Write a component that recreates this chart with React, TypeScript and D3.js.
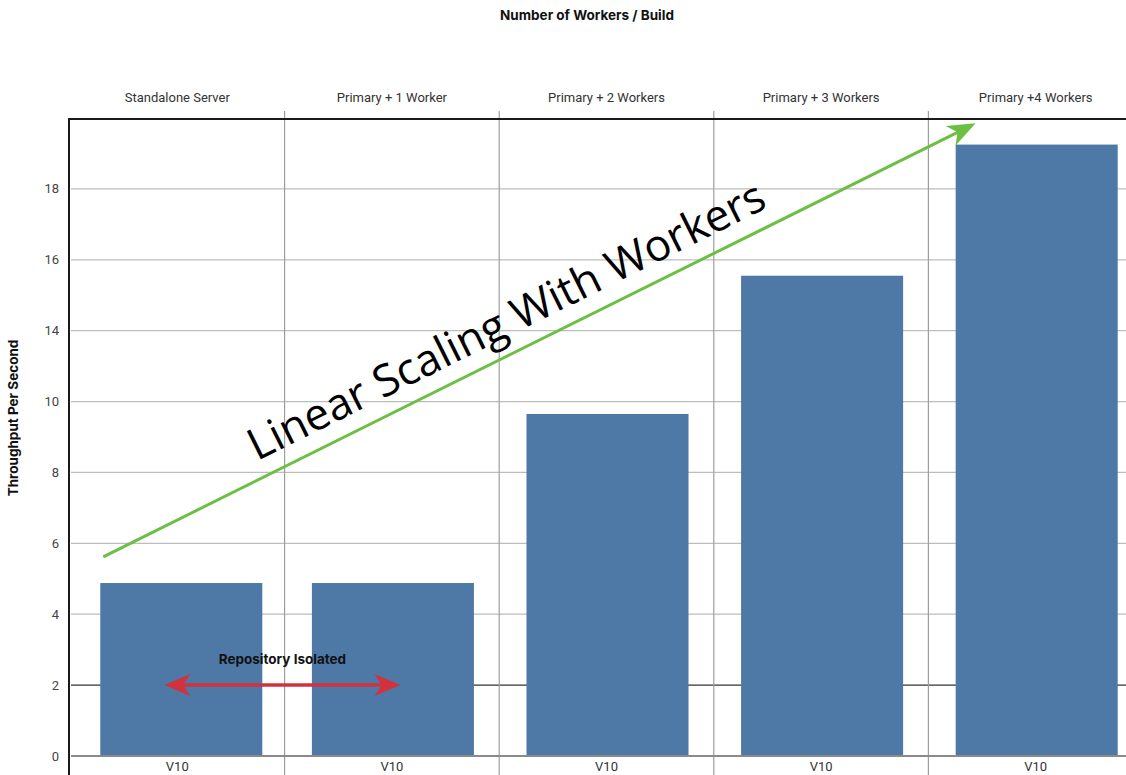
import React, { useEffect, useRef } from 'react';
import * as d3 from 'd3';

const builds = ['Standalone Server', 'Primary + 1 Worker', 'Primary + 2 Workers', 'Primary + 3 Workers', 'Primary +4 Workers'];
const versions = ['V10', 'V10', 'V10', 'V10', 'V10'];
const throughput = [4.88, 4.88, 9.65, 15.55, 19.25];
// the axis labels of the original skip 12, so the scale is piecewise
const tickValues = [0, 2, 4, 6, 8, 10, 14, 16, 18];
const tickLabels = ['0', '2', '4', '6', '8', '10', '14', '16', '18'];

const width = 1126;
const height = 775;
const margin = { top: 118, left: 70, bottom: 756 };
const step = 214.6;

// dart shaped arrow head, tip at (0,0), pointing along +x
const dart = (len: number, half: number) =>
  `M0,0 L${-len},${-half} L${-len * 0.72},0 L${-len},${half} Z`;

const App: React.FC = () => {
  const ref = useRef<SVGSVGElement | null>(null);

  useEffect(() => {
    if (!ref.current) return;
    const svg = d3.select(ref.current);
    svg.selectAll('*').remove();

    const x = d3.scaleBand<string>()
      .domain(builds)
      .range([margin.left, margin.left + step * builds.length])
      .padding(0);
    const bw = x.bandwidth();

    const inner = d3.scaleLinear().domain([0, 18]).range([margin.bottom, margin.top]);
    const y = d3.scaleLinear()
      .domain([0, 10, 14, 20])
      .range([0, 10, 12, 18].map(v => inner(v)));

    const font = 'Roboto, "Liberation Sans", sans-serif';
    const boldFont = 'Inter, Roboto, sans-serif';

    // horizontal grid
    svg.append('g')
      .selectAll('line')
      .data(tickValues)
      .join('line')
      .attr('x1', margin.left + 1)
      .attr('x2', width)
      .attr('y1', d => y(d))
      .attr('y2', d => y(d))
      .attr('stroke', d => (d === 2 ? '#333' : d === 0 ? '#8a8a8a' : '#bdbdbd'))
      .attr('stroke-width', d => (d === 0 ? 2 : d === 2 ? 1.4 : 1.3));

    // panel dividers
    svg.append('g')
      .selectAll('line')
      .data(builds.slice(1))
      .join('line')
      .attr('x1', d => x(d)!)
      .attr('x2', d => x(d)!)
      .attr('y1', margin.top - 7)
      .attr('y2', height)
      .attr('stroke', '#9e9e9e')
      .attr('stroke-width', 1.2);

    // bars
    const barW = bw * 0.755;
    svg.append('g')
      .selectAll('rect')
      .data(throughput)
      .join('rect')
      .attr('x', (d, i) => x(builds[i])! + (bw - barW) / 2 + (i === 0 ? 4 : 1))
      .attr('y', d => y(d))
      .attr('width', barW)
      .attr('height', d => y(0) - y(d))
      .attr('fill', '#4e78a6');

    // redraw baseline over bars
    svg.append('line')
      .attr('x1', margin.left + 1).attr('x2', width)
      .attr('y1', y(0)).attr('y2', y(0))
      .attr('stroke', '#8a8a8a').attr('stroke-width', 2);

    // frame
    svg.append('line')
      .attr('x1', margin.left).attr('x2', width)
      .attr('y1', margin.top + 1).attr('y2', margin.top + 1)
      .attr('stroke', '#1a1a1a').attr('stroke-width', 2);
    svg.append('line')
      .attr('x1', margin.left - 1).attr('x2', margin.left - 1)
      .attr('y1', margin.top).attr('y2', height)
      .attr('stroke', '#1a1a1a').attr('stroke-width', 2);

    // y tick labels
    svg.append('g')
      .selectAll('text')
      .data(tickValues)
      .join('text')
      .attr('x', 59)
      .attr('y', d => y(d) + 4.5)
      .attr('text-anchor', 'end')
      .attr('font-family', font)
      .attr('font-size', 13)
      .attr('fill', '#444')
      .text((d, i) => tickLabels[i]);

    // header labels
    svg.append('g')
      .selectAll('text')
      .data(builds)
      .join('text')
      .attr('x', d => x(d)! + bw / 2)
      .attr('y', 102)
      .attr('text-anchor', 'middle')
      .attr('font-family', font)
      .attr('font-size', 13)
      .attr('fill', '#333')
      .text(d => d);

    // bottom labels
    svg.append('g')
      .selectAll('text')
      .data(versions)
      .join('text')
      .attr('x', (d, i) => x(builds[i])! + bw / 2)
      .attr('y', 771)
      .attr('text-anchor', 'middle')
      .attr('font-family', font)
      .attr('font-size', 13)
      .attr('fill', '#333')
      .text(d => d);

    // title and axis title
    svg.append('text')
      .attr('x', 587).attr('y', 20)
      .attr('text-anchor', 'middle')
      .attr('font-family', boldFont)
      .attr('font-weight', 'bold')
      .attr('font-size', 13.5)
      .attr('fill', '#111')
      .text('Number of Workers / Build');

    svg.append('text')
      .attr('transform', 'translate(18,418) rotate(-90)')
      .attr('text-anchor', 'middle')
      .attr('font-family', boldFont)
      .attr('font-weight', 'bold')
      .attr('font-size', 13.5)
      .attr('fill', '#111')
      .text('Throughput Per Second');

    // green trend arrow
    const g0 = [x(builds[0])! + bw * 0.155, y(5.62)];
    const g1 = [x(builds[4])! + bw * 0.22, y(19.85)];
    const gAng = Math.atan2(g1[1] - g0[1], g1[0] - g0[0]);
    const green = '#6cbf43';
    svg.append('line')
      .attr('x1', g0[0]).attr('y1', g0[1])
      .attr('x2', g1[0] - Math.cos(gAng) * 14).attr('y2', g1[1] - Math.sin(gAng) * 14)
      .attr('stroke', green).attr('stroke-width', 3);
    svg.append('path')
      .attr('d', dart(28, 11))
      .attr('transform', `translate(${g1[0]},${g1[1]}) rotate(${(gAng * 180) / Math.PI})`)
      .attr('fill', green);

    svg.append('text')
      .attr('transform', `translate(513,334) rotate(${(gAng * 180) / Math.PI})`)
      .attr('text-anchor', 'middle')
      .attr('font-family', '"Open Sans", "Noto Sans", sans-serif')
      .attr('font-size', 44)
      .attr('fill', '#000')
      .text('Linear Scaling With Workers');

    // red double arrow
    const red = '#d2323d';
    const rx0 = x(builds[0])! + bw * 0.44;
    const rx1 = x(builds[1])! + bw * 0.54;
    const ry = y(2);
    svg.append('line')
      .attr('x1', rx0 + 14).attr('x2', rx1 - 14)
      .attr('y1', ry).attr('y2', ry)
      .attr('stroke', red).attr('stroke-width', 3.5);
    svg.append('path')
      .attr('d', dart(26, 11))
      .attr('transform', `translate(${rx1},${ry})`)
      .attr('fill', red);
    svg.append('path')
      .attr('d', dart(26, 11))
      .attr('transform', `translate(${rx0},${ry}) rotate(180)`)
      .attr('fill', red);

    svg.append('text')
      .attr('x', (rx0 + rx1) / 2)
      .attr('y', ry - 21)
      .attr('text-anchor', 'middle')
      .attr('font-family', boldFont)
      .attr('font-weight', 'bold')
      .attr('font-size', 13.5)
      .attr('fill', '#111')
      .text('Repository Isolated');
  }, []);

  return (
    <svg
      ref={ref}
      width={width}
      height={height}
      style={{ position: 'absolute', left: 0, top: 0, background: '#fff' }}
    />
  );
};

export default App;
